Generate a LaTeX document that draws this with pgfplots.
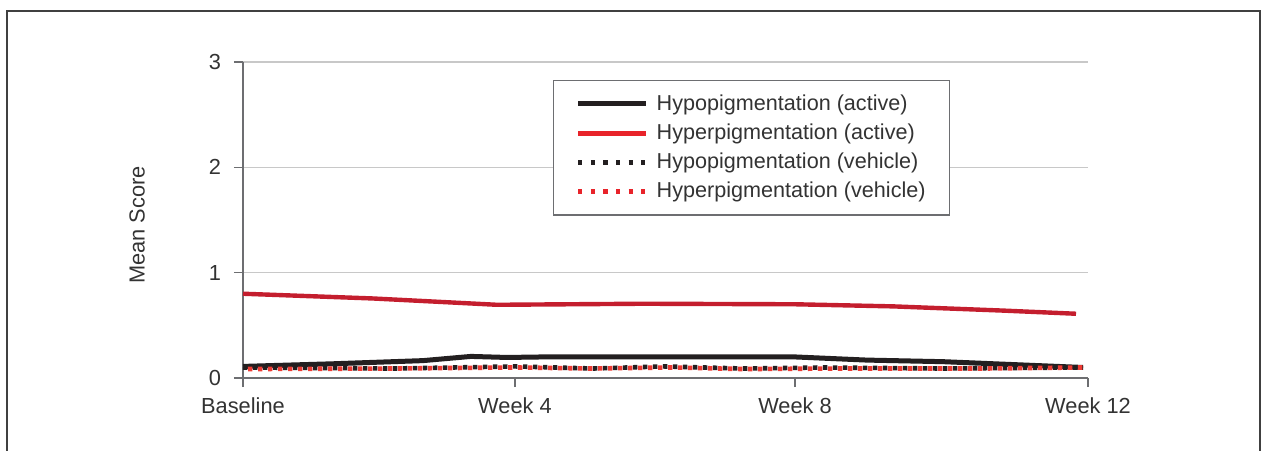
\documentclass[border=0pt]{standalone}
\usepackage{pgfplots}
\pgfplotsset{compat=1.18}
\usepackage{fontspec}
\setmainfont{Liberation Sans}
\definecolor{blk}{HTML}{231F20}
\definecolor{redA}{HTML}{C41E2E}
\definecolor{redL}{HTML}{E8232A}
\definecolor{redV}{HTML}{EE3B34}
\definecolor{txt}{HTML}{333333}
\definecolor{axc}{HTML}{6D6E71}
\definecolor{gridc}{HTML}{C8C8C8}
\begin{document}
\begin{tikzpicture}
\useasboundingbox (-121.5bp,-36.5bp) rectangle (509bp,189bp);
\begin{axis}[
  at={(0,0)}, anchor=south west,
  scale only axis, width=422.5bp, height=158bp,
  xmin=0, xmax=845, ymin=0, ymax=3,
  axis x line*=bottom, axis y line*=left,
  axis line style={axc, line width=0.6bp},
  xtick={0,272,552,845},
  xticklabels={Baseline, Week 4, Week 8, Week 12},
  ytick={0,1,2,3},
  yticklabels={0,1,2,3},
  tick align=outside, major tick length=4.5bp,
  tick style={axc, line width=0.6bp},
  ymajorgrids, grid style={gridc, line width=0.6bp},
  every tick label/.append style={font=\fontsize{10.9bp}{13bp}\selectfont, text=txt},
  xticklabel style={yshift=-2bp},
  yticklabel style={xshift=-3bp},
  ylabel={Mean Score},
  ylabel style={at={(axis description cs:-0.1254,0.484)}, anchor=center, font=\fontsize{10.9bp}{13bp}\selectfont, text=txt},
  legend cell align=left,
  legend image code/.code={\draw[#1] (0bp,0bp) -- (34bp,0bp);},
  legend style={at={(0.367,0.943)}, anchor=north west, draw=axc, line width=0.6bp,
    font=\fontsize{10.8bp}{13bp}\selectfont, text=txt,
    inner xsep=11bp, inner ysep=6bp, row sep=3.3bp, column sep=3bp,
    nodes={inner sep=1bp}},
]
\addplot[blk, line width=2.5bp, line join=round] coordinates {
(0,0.11) (90,0.135) (180,0.165) (228,0.205) (264,0.195) (300,0.20) (552,0.20) (624,0.17) (700,0.155) (840,0.10)};
\addlegendentry{Hypopigmentation (active)}
\addplot[redA, line width=2.2bp, line join=round, legend image post style={redL, line width=2.5bp}] coordinates {
(0,0.80) (130,0.755) (254,0.695) (400,0.705) (552,0.70) (650,0.68) (760,0.64) (833,0.61)};
\addlegendentry{Hyperpigmentation (active)}
\addplot[blk, line width=2.3bp, dash pattern=on 2.2bp off 2.8bp, legend image post style={dash pattern=on 2.1bp off 4.2bp, dash phase=0bp}] coordinates {
(0,0.10) (150,0.09) (272,0.11) (350,0.09) (420,0.11) (500,0.09) (580,0.10) (700,0.09) (840,0.10)};
\addlegendentry{Hypopigmentation (vehicle)}
\addplot[redV, line width=2.3bp, dash pattern=on 2.2bp off 2.8bp, dash phase=2.5bp, legend image post style={redL, dash pattern=on 2.1bp off 4.2bp, dash phase=0bp}] coordinates {
(0,0.085) (150,0.09) (272,0.10) (350,0.09) (430,0.10) (500,0.085) (600,0.09) (740,0.09) (840,0.10)};
\addlegendentry{Hyperpigmentation (vehicle)}
\end{axis}
\draw[line width=0.9bp, black!75] (-118bp,-36.5bp) -- (-118bp,183.5bp) -- (508.5bp,183.5bp) -- (508.5bp,-36.5bp);
\end{tikzpicture}
\end{document}
